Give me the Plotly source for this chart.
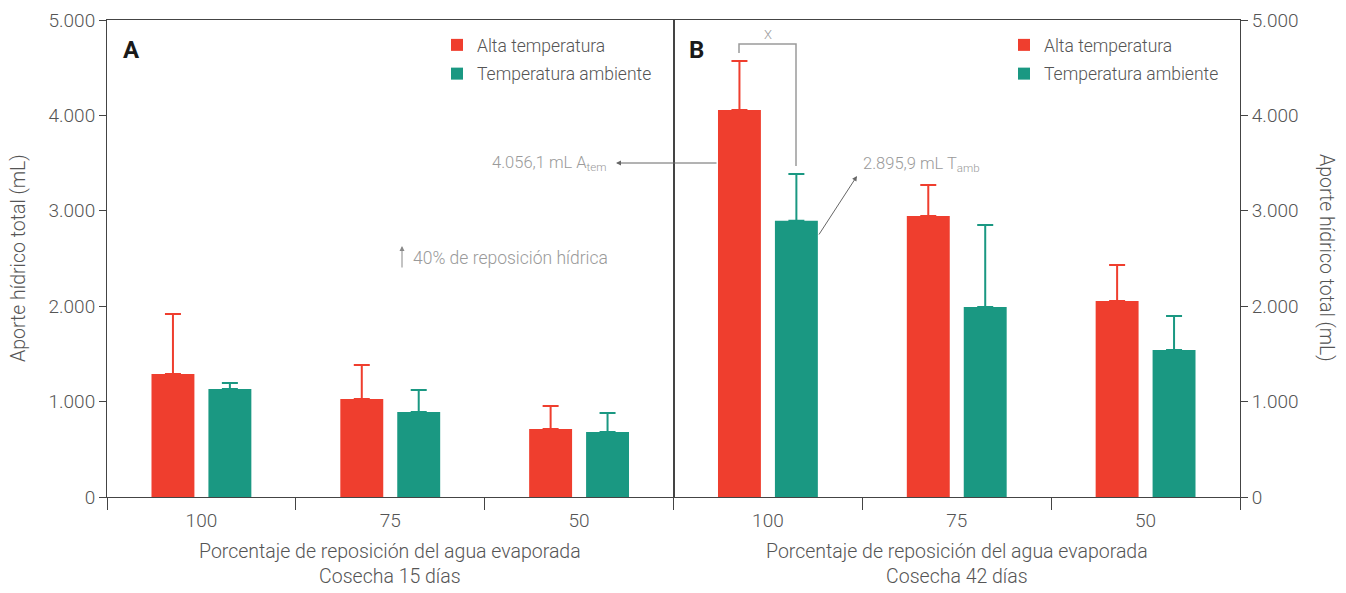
import plotly.graph_objects as go

categories = ["100", "75", "50"]
alta_15 = [1289, 1027, 713]
alta_15_err = [629, 357, 241]
amb_15 = [1132, 891, 681]
amb_15_err = [63, 231, 199]
alta_42 = [4056.1, 2945, 2055]
alta_42_err = [514, 325, 377]
amb_42 = [2895.9, 1992, 1541]
amb_42_err = [490, 859, 356]

RED = "#EF3E2E"
GREEN = "#1A9882"
AX = "#444444"
TXT = "#555555"
GREY = "#9a9a9a"
FONT = "Roboto"

# page has an 8px body margin: figure is drawn at (8, 8)
OFF = 8
W, H = 1346 - 2 * OFF, 593 - 2 * OFF
L, R, T, B = 107, 1240, 20, 497  # plot area in page pixels


def X(px):
    return (px - L) / (R - L)


def Y(py):
    return (B - py) / (B - T)


fig = go.Figure()


def bar(x, y, err, name, color, xa, ya, legend):
    return go.Bar(
        x=x, y=y, name=name, marker=dict(color=color, line=dict(width=0)),
        error_y=dict(type="data", symmetric=False, array=err, arrayminus=[0] * len(err),
                     color=color, thickness=2, width=8),
        xaxis=xa, yaxis=ya, legend=legend, legendgroup=name + legend,
    )


fig.add_trace(bar(categories, alta_15, alta_15_err, "Alta temperatura", RED, "x", "y", "legend"))
fig.add_trace(bar(categories, amb_15, amb_15_err, "Temperatura ambiente", GREEN, "x", "y", "legend"))
fig.add_trace(bar(categories, alta_42, alta_42_err, "Alta temperatura", RED, "x2", "y2", "legend2"))
fig.add_trace(bar(categories, amb_42, amb_42_err, "Temperatura ambiente", GREEN, "x2", "y2", "legend2"))

xcommon = dict(
    type="category", range=[-0.5, 2.5], showline=True, linecolor=AX, linewidth=1,
    mirror=True, ticks="outside", tickson="boundaries", ticklen=12, tickcolor=AX,
    tickfont=dict(family=FONT, size=19, color=TXT, weight=300), showgrid=False, zeroline=False,
    ticklabelstandoff=6, automargin=False,
)
ycommon = dict(
    range=[0, 5000], tickvals=[0, 1000, 2000, 3000, 4000, 5000], tickformat=",d",
    showline=True, linecolor=AX, linewidth=1, mirror=True, ticks="outside", ticklen=7,
    tickcolor=AX, tickfont=dict(family=FONT, size=19, color=TXT, weight=300),
    showgrid=False, zeroline=False, automargin=False,
)

fig.update_layout(
    width=W, height=H,
    margin=dict(l=L - OFF, r=W - (R - OFF), t=T - OFF, b=H - (B - OFF), autoexpand=False),
    paper_bgcolor="white", plot_bgcolor="white",
    separators=",.",
    barmode="group", bargap=0.397, bargroupgap=0.246,
    font=dict(family=FONT, color=TXT),
    xaxis=dict(domain=[0, 0.5], anchor="y", **xcommon),
    xaxis2=dict(domain=[0.5, 1], anchor="y2", **xcommon),
    yaxis=dict(anchor="x", side="left", **ycommon),
    yaxis2=dict(anchor="x2", side="right", **ycommon),
    legend=dict(x=X(437), y=Y(27), xanchor="left", yanchor="top", bgcolor="rgba(0,0,0,0)",
                font=dict(family=FONT, size=17.5, color=TXT, weight=300), tracegroupgap=3,
                itemclick=False),
    legend2=dict(x=X(1004), y=Y(27), xanchor="left", yanchor="top", bgcolor="rgba(0,0,0,0)",
                 font=dict(family=FONT, size=17.5, color=TXT, weight=300), tracegroupgap=3,
                 itemclick=False),
    showlegend=True,
)


def note(text, px, py, size, color=GREY, xanchor="center", angle=0):
    return dict(text=text, xref="paper", yref="paper", x=X(px), y=Y(py), xanchor=xanchor,
                yanchor="middle", textangle=angle, showarrow=False,
                font=dict(family=FONT, size=size, color=color, weight=300))


def arrow(hx, hy, dx, dy, color="#666666"):
    return dict(text="", xref="paper", yref="paper", x=X(hx), y=Y(hy), ax=dx, ay=dy,
                axref="pixel", ayref="pixel", showarrow=True, arrowhead=2, arrowsize=1,
                arrowwidth=1, arrowcolor=color)


ann = [
    note("Porcentaje de reposición del agua evaporada<br>Cosecha 15 días", 390, 564, 19.5, TXT),
    note("Porcentaje de reposición del agua evaporada<br>Cosecha 42 días", 956.5, 564, 19.5, TXT),
    note("Aporte hídrico total (mL)", 18, 258, 19.5, TXT, angle=-90),
    note("Aporte hídrico total (mL)", 1327, 258, 19.5, TXT, angle=90),
    dict(text="<b>A</b>", xref="paper", yref="paper", x=X(121), y=Y(50), xanchor="left",
         yanchor="middle", showarrow=False, font=dict(family=FONT, size=24, color="#1a1a1a")),
    dict(text="<b>B</b>", xref="paper", yref="paper", x=X(687), y=Y(50), xanchor="left",
         yanchor="middle", showarrow=False, font=dict(family=FONT, size=24, color="#1a1a1a")),
    note("4.056,1 mL A<sub>tem</sub>", 609, 163, 16.5, xanchor="right"),
    note("2.895,9 mL T<sub>amb</sub>", 861, 165, 16.5, xanchor="left"),
    note("40% de reposición hídrica", 411, 258, 17.5, xanchor="left"),
    note("X", 768, 35, 13),
    arrow(616, 163, 102, 0),
    arrow(857, 176, -39, 60),
    arrow(402, 246, 0, 23, "#888888"),
]
fig.update_layout(annotations=ann)

fig.add_shape(type="path", xref="paper", yref="paper",
              path=f"M {X(739)},{Y(53)} L {X(739)},{Y(44)} L {X(796)},{Y(44)} L {X(796)},{Y(166)}",
              line=dict(color=GREY, width=1.5))

fig.write_html("out.html")
